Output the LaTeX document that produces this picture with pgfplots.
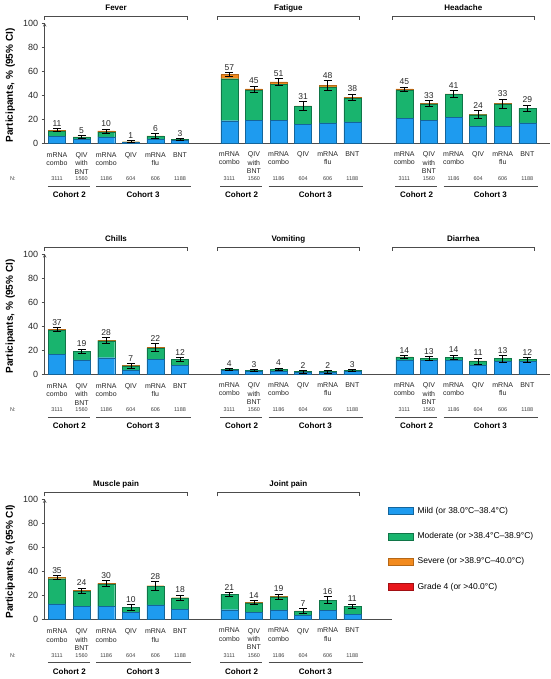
\documentclass[border=0pt]{standalone}
\usepackage{fontspec}
\setmainfont{Liberation Sans}
\usepackage{pgfplots}
\pgfplotsset{compat=1.18}
\usepackage{pgfplotstable}

\definecolor{cMild}{HTML}{1E9BEF}
\definecolor{cMod}{HTML}{19B46E}
\definecolor{cSev}{HTML}{F28A1E}
\definecolor{cG4}{HTML}{E8161B}

\newcommand\fcat{\fontsize{7}{8.3}\selectfont}
\newcommand\fnum{\fontsize{5.5}{6}\selectfont}
\newcommand\ftick{\fontsize{9}{10}\selectfont}
\newcommand\ftot{\fontsize{8.5}{10}\selectfont}
\newcommand\ftitle{\bfseries\fontsize{8}{9}\selectfont}
\newcommand\fcoh{\bfseries\fontsize{8}{9}\selectfont}
\newcommand\fylab{\bfseries\fontsize{10}{12}\selectfont}
\newcommand\fleg{\fontsize{8.5}{10}\selectfont}

\pgfplotstableread{
x mild mod sev g4 err lab
0 5.5 4.0 1.3 0.2 1.1 11
1 3.5 1.2 0.3 0 1.1 5
2 5.0 4.0 1.0 0 1.7 10
3 0.7 0.3 0.1 0 0.8 1
4 3.5 2.0 0.5 0 1.9 6
5 2.0 0.8 0.2 0 1.0 3
}\tabFever
\pgfplotstableread{
x mild mod sev g4 err lab
0 18.6 35.0 3.4 0 1.8 57
1 19.0 25.0 1.0 0 2.5 45
2 19.0 30.0 2.0 0 2.8 51
3 15.5 15.0 0.5 0 3.7 31
4 16.7 30.0 1.3 0 4.0 48
5 17.5 19.7 0.8 0 2.8 38
}\tabFatigue
\pgfplotstableread{
x mild mod sev g4 err lab
0 20.8 23.0 1.2 0 1.8 45
1 19.0 13.5 0.5 0 2.4 33
2 21.4 19.0 0.6 0 2.8 41
3 14.0 9.6 0.4 0 3.4 24
4 14.0 18.5 0.5 0 3.8 33
5 16.7 12.0 0.3 0 2.6 29
}\tabHeadache
\pgfplotstableread{
x mild mod sev g4 err lab
0 16.4 20.0 0.6 0 1.7 37
1 11.7 7.0 0.3 0 2.0 19
2 13.6 14.0 0.4 0 2.6 28
3 3.5 3.3 0.2 0 2.1 7
4 12.0 9.6 0.4 0 3.3 22
5 7.0 5.0 0.2 0 1.9 12
}\tabChills
\pgfplotstableread{
x mild mod sev g4 err lab
0 3.2 0.6 0.2 0 0.7 4
1 2.5 0.5 0.1 0 0.9 3
2 2.5 1.3 0.2 0 1.1 4
3 1.6 0.4 0.1 0 1.1 2
4 1.6 0.4 0.1 0 1.1 2
5 2.2 0.6 0.1 0 1.0 3
}\tabVomiting
\pgfplotstableread{
x mild mod sev g4 err lab
0 11.7 2.3 0.2 0 1.2 14
1 11.5 1.5 0.1 0 1.7 13
2 11.5 2.3 0.2 0 2.0 14
3 7.5 3.3 0.1 0 2.5 11
4 10.5 2.3 0.1 0 2.7 13
5 10.5 1.5 0.1 0 1.9 12
}\tabDiarrhea
\pgfplotstableread{
x mild mod sev g4 err lab
0 12.8 21.0 1.2 0 1.7 35
1 10.6 12.8 0.6 0 2.1 24
2 10.6 18.7 0.7 0 2.6 30
3 5.6 4.2 0.2 0 2.4 10
4 12.0 15.6 0.4 0 3.6 28
5 8.4 9.4 0.2 0 2.2 18
}\tabMuscle
\pgfplotstableread{
x mild mod sev g4 err lab
0 8.0 12.6 0.4 0 1.4 21
1 6.0 7.6 0.4 0 1.7 14
2 7.8 10.8 0.4 0 2.2 19
3 3.2 3.6 0.2 0 2.0 7
4 7.3 8.5 0.2 0 2.9 16
5 4.4 6.4 0.2 0 1.8 11
}\tabJoint

\pgfplotsset{
 base/.style={x=24.6pt, y=1.2pt, xmin=-0.5, ymin=0, ymax=100,
   anchor=south west, clip=false, enlargelimits=false},
 barax/.style={base, ybar stacked, bar width=17pt,
   axis x line=bottom, axis line style={-, black!70, line width=0.6pt},
   xtick={0,...,5},
   xticklabels={{mRNA\\combo},{QIV\\with\\BNT},{mRNA\\combo},QIV,{mRNA\\flu},BNT},
   xtick style={draw=none},
   xticklabel style={font=\fcat, align=center, anchor=north, inner sep=0pt, yshift=-6.5pt, text=black!85},
   /pgf/number format/assume math mode=true},
 withy/.style={axis y line=left, ytick={0,20,...,100}, tick align=outside,
   major tick length=3pt, yticklabel style={font=\ftick, text=black!85},
   ytick style={black!70, line width=0.6pt}},
 noy/.style={axis y line=none},
}

\newcommand\nrow{%
 \node[font=\fnum, text=black!75] at ([yshift=-36pt]axis cs:0,0) {3111};
 \node[font=\fnum, text=black!75] at ([yshift=-36pt]axis cs:1,0) {1560};
 \node[font=\fnum, text=black!75] at ([yshift=-36pt]axis cs:2,0) {1186};
 \node[font=\fnum, text=black!75] at ([yshift=-36pt]axis cs:3,0) {604};
 \node[font=\fnum, text=black!75] at ([yshift=-36pt]axis cs:4,0) {606};
 \node[font=\fnum, text=black!75] at ([yshift=-36pt]axis cs:5,0) {1188};
 \draw[black!70, line width=0.6pt] ([yshift=-43pt]axis cs:-0.37,0) -- ([yshift=-43pt]axis cs:1.34,0);
 \draw[black!70, line width=0.6pt] ([yshift=-43pt]axis cs:1.6,0) -- ([yshift=-43pt]axis cs:5.45,0);
 \node[font=\fcoh] at ([yshift=-52pt]axis cs:0.5,0) {Cohort 2};
 \node[font=\fcoh] at ([yshift=-52pt]axis cs:3.5,0) {Cohort 3};
}
\newcommand\yextra{%
 \node[font=\fnum, text=black!75] at ([yshift=-36pt]axis cs:-1.79,0) {N:};
 \node[font=\fylab, rotate=90] at (axis cs:-1.9,48) {Participants, \% (95\% CI)};
}

% #1 x, #2 y, #3 table, #4 title, #5 xmax, #6 style, #7 extra
\newcommand\panel[7]{%
\begin{axis}[barax, #6, at={(#1,#2)}, xmax=#5]
 \addplot[fill=cMild, draw=cMild!65!black, line width=0.3pt] table[x=x,y=mild]{#3};
 \addplot[fill=cMod, draw=cMod!65!black, line width=0.3pt] table[x=x,y=mod]{#3};
 \addplot[fill=cSev, draw=cSev!75!black, line width=0.3pt] table[x=x,y=sev]{#3};
 \addplot[fill=cG4, draw=none] table[x=x,y=g4]{#3};
 \draw[black!70, line width=0.6pt] (axis cs:-0.5,102.5) |- (axis cs:5.3,105.8) -- (axis cs:5.3,102.5);
 \node[font=\ftitle] at (axis cs:2.4,112.5) {#4};
 \nrow
 #7
\end{axis}
\begin{axis}[base, hide axis, at={(#1,#2)}, xmax=#5]
 \addplot[draw=none, mark=none,
   error bars/.cd, y dir=both, y explicit,
   error bar style={draw=black, line width=0.5pt},
   error mark options={draw=black, rotate=90, mark size=4pt, line width=0.5pt}]
   table[x=x, y expr=\thisrow{mild}+\thisrow{mod}+\thisrow{sev}+\thisrow{g4}, y error=err]{#3};
 \addplot[draw=none, mark=none, nodes near coords, point meta=explicit symbolic,
   nodes near coords style={font=\ftot, anchor=south, inner sep=1.8pt, text=black!85}]
   table[x=x, y expr=\thisrow{mild}+\thisrow{mod}+\thisrow{sev}+\thisrow{g4}+\thisrow{err}, meta=lab]{#3};
\end{axis}
}

\begin{document}
\begin{tikzpicture}
\useasboundingbox (0,0) rectangle (550pt,679pt);
\panel{44.7pt}{536pt}{\tabFever}{Fever}{6.5}{withy}{\yextra}
\panel{217pt}{536pt}{\tabFatigue}{Fatigue}{6.6}{noy}{}
\panel{392pt}{536pt}{\tabHeadache}{Headache}{5.92}{noy}{}
\panel{44.7pt}{305pt}{\tabChills}{Chills}{6.5}{withy}{\yextra}
\panel{217pt}{305pt}{\tabVomiting}{Vomiting}{6.6}{noy}{}
\panel{392pt}{305pt}{\tabDiarrhea}{Diarrhea}{5.92}{noy}{}
\panel{44.7pt}{59.7pt}{\tabMuscle}{Muscle pain}{6.5}{withy}{\yextra}
\panel{217pt}{59.7pt}{\tabJoint}{Joint pain}{6.6}{noy}{}
\begin{axis}[hide axis, scale only axis, width=100pt, height=100pt,
   xmin=0, xmax=1, ymin=0, ymax=1, at={(388pt,174pt)}, anchor=north west,
   legend style={draw=none, fill=none, at={(0,1)}, anchor=north west,
     font=\fleg, row sep=13.6pt, inner sep=0pt,
     /tikz/every odd column/.append style={column sep=2pt}},
   legend cell align=left,
   legend image code/.code={\draw[#1] (0pt,-3.5pt) rectangle (25pt,3.5pt);}]
 \addlegendimage{fill=cMild, draw=cMild!65!black}
 \addlegendentry{Mild (or 38.0°C–38.4°C)}
 \addlegendimage{fill=cMod, draw=cMod!65!black}
 \addlegendentry{Moderate (or >38.4°C–38.9°C)}
 \addlegendimage{fill=cSev, draw=cSev!75!black}
 \addlegendentry{Severe (or >38.9°C–40.0°C)}
 \addlegendimage{fill=cG4, draw=cG4!70!black}
 \addlegendentry{Grade 4 (or >40.0°C)}
\end{axis}
\end{tikzpicture}
\end{document}
